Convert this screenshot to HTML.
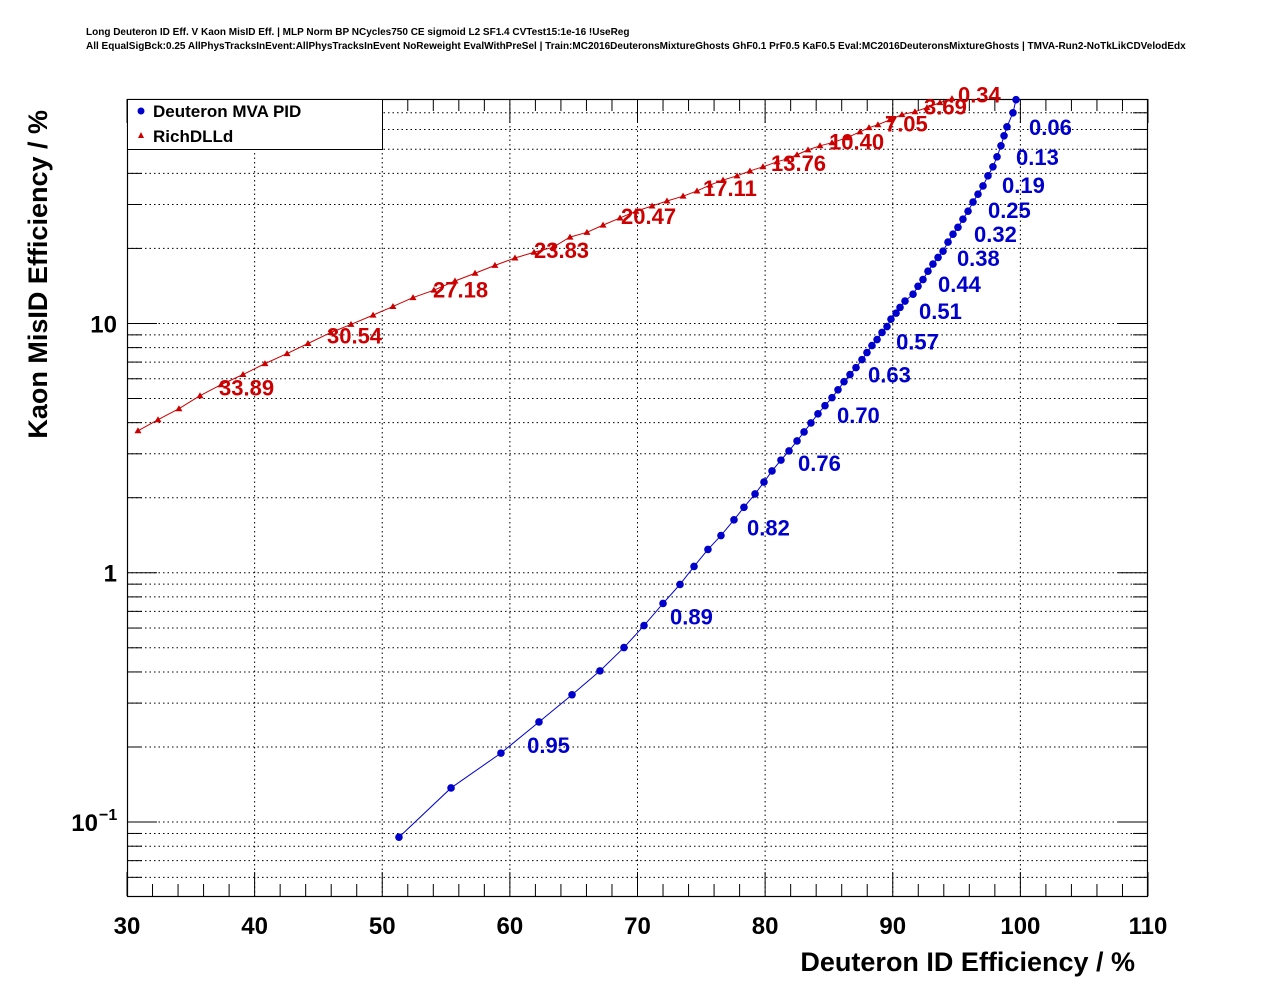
<!DOCTYPE html>
<html><head><meta charset="utf-8"><style>
body{margin:0;background:#fff;}
svg text{font-family:"Liberation Sans",Arial,sans-serif;font-weight:bold;}
</style></head><body>
<svg id="chart" width="1276" height="996" viewBox="0 0 1276 996" xmlns="http://www.w3.org/2000/svg">
<text x="86" y="35" font-size="10">Long Deuteron ID Eff. V Kaon MisID Eff. | MLP Norm BP NCycles750 CE sigmoid L2 SF1.4 CVTest15:1e-16 !UseReg</text>
<text x="86" y="49" font-size="10">All EqualSigBck:0.25 AllPhysTracksInEvent:AllPhysTracksInEvent NoReweight EvalWithPreSel | Train:MC2016DeuteronsMixtureGhosts GhF0.1 PrF0.5 KaF0.5 Eval:MC2016DeuteronsMixtureGhosts | TMVA-Run2-NoTkLikCDVelodEdx</text>
<g id="grid"></g>
<g id="axes"></g>
<g id="series"></g>
<g>
<rect x="127.5" y="99.5" width="255" height="50" fill="#fff" stroke="#000" stroke-width="1"/>
<circle cx="141" cy="111" r="3.5" fill="#0000cc"/>
<text x="153" y="117" font-size="17">Deuteron MVA PID</text>
<polygon points="141,132 144,138 138,138" fill="#cc0000"/>
<text x="153" y="142" font-size="17">RichDLLd</text>
</g>
<text x="1135" y="971" font-size="27" text-anchor="end">Deuteron ID Efficiency / %</text>
<text transform="translate(47,110) rotate(-90)" font-size="27" text-anchor="end">Kaon MisID Efficiency / %</text>
</svg>
<script>
const xTicks=[30,40,50,60,70,80,90,100,110];
const yMajor=[0.1,1,10];
const mvaX=[51.31,55.39,59.30,62.28,64.87,67.06,68.94,70.51,72.00,73.33,74.43,75.52,76.54,77.56,78.34,79.21,79.91,80.54,81.24,81.87,82.50,83.05,83.59,84.14,84.69,85.24,85.71,86.18,86.65,87.12,87.59,87.98,88.37,88.77,89.16,89.55,89.86,90.26,90.57,90.96,91.59,91.98,92.37,92.76,93.15,93.55,93.94,94.33,94.72,95.11,95.50,95.90,96.29,96.68,97.07,97.46,97.85,98.17,98.48,98.72,98.95,99.42,99.66];
const mvaY=[0.0869,0.137,0.189,0.252,0.324,0.404,0.501,0.614,0.753,0.898,1.06,1.24,1.41,1.63,1.83,2.07,2.31,2.56,2.83,3.08,3.38,3.67,3.99,4.34,4.68,5.04,5.42,5.84,6.24,6.65,7.16,7.64,8.15,8.62,9.20,9.72,10.4,11.0,11.6,12.3,13.1,14.1,15.0,16.2,17.3,18.4,19.5,21.2,22.8,24.3,26.2,28.2,30.7,33.0,35.6,39.1,42.5,46.6,51.6,56.6,61.5,70.0,79.0];
const mvaLabels=["0.06","0.13","0.19","0.25","0.32","0.38","0.44","0.51","0.57","0.63","0.70","0.76","0.82","0.89","0.95"];
const mvaLabelX=[100.68,99.66,98.56,97.46,96.37,95.03,93.55,92.06,90.26,88.06,85.63,82.58,78.58,72.55,61.35];
const mvaLabelY=[61.5,46.6,35.9,28.5,22.8,18.3,14.4,11.2,8.47,6.24,4.30,2.75,1.52,0.667,0.204];
const richX=[30.86,32.43,34.07,35.72,37.37,39.09,40.81,42.54,44.18,45.98,47.55,49.28,50.84,52.41,54.05,55.70,57.27,58.83,60.40,61.89,63.38,64.71,66.04,67.30,68.63,69.88,71.14,72.31,73.57,74.66,75.68,76.70,77.80,78.81,79.83,80.93,81.71,82.50,83.36,84.30,85.24,86.42,87.43,88.14,88.84,89.78,90.72,91.74,92.68,93.70,94.64];
const richY=[3.71,4.11,4.55,5.13,5.68,6.24,6.90,7.57,8.31,9.20,9.91,10.8,11.7,12.7,13.6,14.8,15.9,17.1,18.3,19.3,20.2,22.2,23.2,24.8,26.5,28.2,29.6,31.0,32.4,34.0,35.9,37.6,39.1,40.9,42.5,44.5,45.7,47.5,49.7,51.6,53.1,55.6,58.7,61.0,62.7,65.6,68.8,70.7,73.4,76.9,79.8];
const richLabels=["33.89","30.54","27.18","23.83","20.47","17.11","13.76","10.40","7.05","3.69","0.34"];
const richLabelX=[37.21,45.67,53.98,61.89,68.71,75.13,80.46,85.01,89.39,92.45,95.11];
const richLabelY=[5.53,8.95,13.7,19.7,27.0,34.9,44.1,53.6,63.3,74.1,82.8];

const L=127,R=1148,T=99,B=896,XMIN=30,XMAX=110,YMIN=0.0505,YMAX=79.5;
const NS="http://www.w3.org/2000/svg";
function sx(v){return L+(v-XMIN)/(XMAX-XMIN)*(R-L);}
function sy(v){return B-(Math.log10(v)-Math.log10(YMIN))/(Math.log10(YMAX)-Math.log10(YMIN))*(B-T);}
function mk(tag,attrs,parent){const e=document.createElementNS(NS,tag);for(const k in attrs)e.setAttribute(k,attrs[k]);parent.appendChild(e);return e;}
const grid=document.getElementById('grid'),axes=document.getElementById('axes'),ser=document.getElementById('series');
for(let v=XMIN;v<=XMAX+1e-9;v+=2){
  const x=sx(v),major=Math.abs(v%10)<1e-9,len=major?24:12;
  if(major&&v>XMIN&&v<XMAX){const g=mk('line',{x1:x,x2:x,y1:T,y2:B,stroke:'#000','stroke-dasharray':'1.5,3','stroke-width':1},grid);

}
  mk('line',{x1:x,x2:x,y1:B,y2:B-len,stroke:'#000'},axes);
  mk('line',{x1:x,x2:x,y1:T,y2:T+len,stroke:'#000'},axes);
}
xTicks.forEach(v=>{const t=mk('text',{x:sx(v),y:934,'font-size':24,'text-anchor':'middle'},axes);t.textContent=v;

});
for(let d=-2;d<=1;d++){for(let m=1;m<=9;m++){const v=m*Math.pow(10,d);if(v<YMIN||v>YMAX)continue;
  const y=sy(v),major=m===1,len=major?30:15;
  const g=mk('line',{x1:L,x2:R,y1:y,y2:y,stroke:'#000','stroke-dasharray':'1.5,3','stroke-width':1},grid);
  
  
  mk('line',{x1:L,x2:L+len,y1:y,y2:y,stroke:'#000'},axes);
  mk('line',{x1:R,x2:R-len,y1:y,y2:y,stroke:'#000'},axes);
}}
yMajor.forEach(v=>{const y=sy(v);const t=mk('text',{x:117,y:y+9,'font-size':24,'text-anchor':'end'},axes);


if(v<1){t.setAttribute('x',98);t.textContent='10';const s=mk('text',{x:99,y:y-2,'font-size':16},axes);s.textContent='\u22121';

}
else t.textContent=String(v);});
mk('rect',{x:L+0.5,y:T+0.5,width:R-L-1,height:B-T,fill:'none',stroke:'#000','stroke-width':1.2},axes);
function line(xs,ys,col,name){const p=mk('polyline',{points:xs.map((v,i)=>sx(v)+','+sy(ys[i])).join(' '),fill:'none',stroke:col,'stroke-width':1},ser);

}
line(richX,richY,'#cc0000','rich-line');
line(mvaX,mvaY,'#0000cc','mva-line');
richX.forEach((v,i)=>{const x=sx(v),y=sy(richY[i]);const p=mk('polygon',{points:`${x},${y-3.5} ${x+3.5},${y+2.5} ${x-3.5},${y+2.5}`,fill:'#cc0000'},ser);

});
mvaX.forEach((v,i)=>{const c=mk('circle',{cx:sx(v),cy:sy(mvaY[i]),r:3.8,fill:'#0000cc'},ser);

});
mvaLabels.forEach((s,i)=>{const t=mk('text',{x:sx(mvaLabelX[i]),y:sy(mvaLabelY[i])+8,'font-size':22,fill:'#0000cc'},ser);t.textContent=s;

});
richLabels.forEach((s,i)=>{const t=mk('text',{x:sx(richLabelX[i]),y:sy(richLabelY[i])+8,'font-size':22,fill:'#cc0000'},ser);t.textContent=s;

});
</script>
</body></html>
